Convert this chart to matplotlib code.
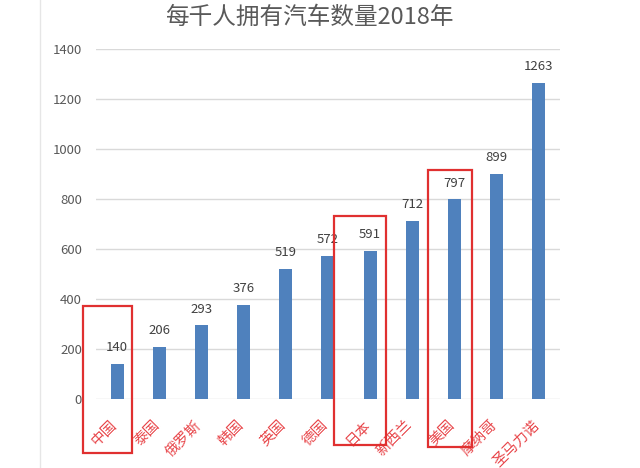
import matplotlib
matplotlib.use('Agg')
import matplotlib.pyplot as plt
from matplotlib.patches import Rectangle
from matplotlib.lines import Line2D
from matplotlib.transforms import ScaledTranslation

plt.rcParams['font.family'] = ['Noto Sans CJK SC', 'DejaVu Sans']

countries = ['中国', '泰国', '俄罗斯', '韩国', '英国', '德国', '日本', '新西兰', '美国', '摩纳哥', '圣马力诺']
cars_per_1000 = [140, 206, 293, 376, 519, 572, 591, 712, 797, 899, 1263]
yticks = [0, 200, 400, 600, 800, 1000, 1200, 1400]
highlighted = ['中国', '日本', '美国']

fig = plt.figure(figsize=(6.4, 4.68), dpi=100)
ax = fig.add_axes([0.15, 0.1485, 0.725, 0.7478])

x = list(range(len(countries)))
bars = ax.bar(x, cars_per_1000, width=0.31, color='#4f81bd', zorder=3)

for xi, v in zip(x, cars_per_1000):
    ax.annotate(str(v), (xi, v), xytext=(0, 7), textcoords='offset points',
                ha='center', va='bottom', fontsize=9.5, color='#404040')

ax.set_xlim(-0.5, len(countries) - 0.5)
ax.set_ylim(0, 1400)
ax.set_yticks(yticks)
ax.set_yticklabels([str(t) for t in yticks])
ax.yaxis.grid(True, color='#d9d9d9', linewidth=1, zorder=0)
ax.tick_params(axis='y', length=0, pad=10, labelsize=9.5, labelcolor='#595959')
for s in ax.spines.values():
    s.set_visible(False)

ax.set_xticks(x)
ax.set_xticklabels(countries, rotation=45, ha='right', va='top', fontsize=10.5, color='#e8474b')
ax.tick_params(axis='x', length=0, pad=14)
offset = ScaledTranslation(3 / 100, 0, fig.dpi_scale_trans)
for lab in ax.get_xticklabels():
    lab.set_transform(lab.get_transform() + offset)

# red highlight boxes (left, right offsets from bar centre; bottom, top in data units)
boxes = {'中国': (-0.81, 0.36, -218, 371),
         '日本': (-0.85, 0.37, -186, 730),
         '美国': (-0.62, 0.42, -193, 914)}
for name in highlighted:
    i = countries.index(name)
    l, r, b, t = boxes[name]
    ax.add_patch(Rectangle((i + l, b), r - l, t - b, fill=False, edgecolor='#e03030',
                           linewidth=1.6, clip_on=False, zorder=5))

fig.text(0.484, 0.962, '每千人拥有汽车数量2018年', ha='center', va='center',
         fontsize=17, color='#595959')

fig.add_artist(Line2D([40 / 640, 40 / 640], [0, 1], transform=fig.transFigure,
                      color='#e6e6e6', linewidth=1))

fig.savefig('out.png', dpi=100)
